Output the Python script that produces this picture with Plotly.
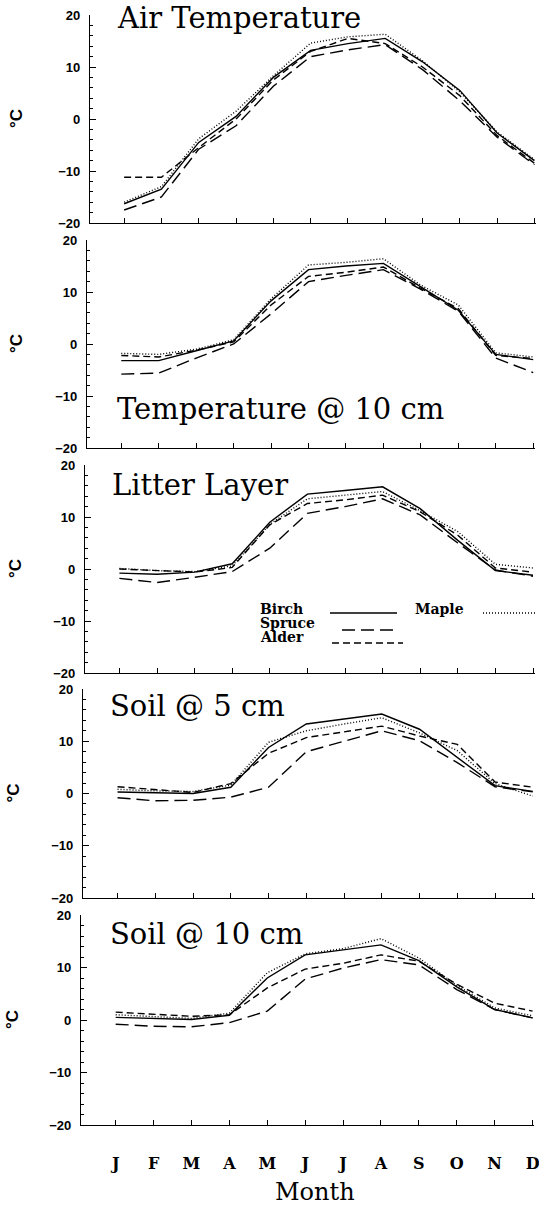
import plotly.graph_objects as go
from plotly.subplots import make_subplots

# month axis
months = ["J", "F", "M", "A", "M", "J", "J", "A", "S", "O", "N", "D"]
month_num = list(range(1, 13))

panel_titles = ["Air Temperature", "Temperature @ 10 cm", "Litter Layer",
                "Soil @ 5 cm", "Soil @ 10 cm"]
species = ["Birch", "Maple", "Spruce", "Alder"]

# mean monthly temperature (deg C)
air_birch = [-16.3, -13.5, -4.5, 0.5, 8.0, 13.2, 14.5, 15.5, 11.0, 5.5, -2.7, -8.0]
air_maple = [-16.0, -13.0, -3.8, 1.5, 8.3, 14.6, 15.8, 16.3, 11.2, 5.2, -2.5, -7.8]
air_spruce = [-17.5, -15.0, -5.8, -1.3, 6.3, 12.0, 13.3, 14.3, 9.5, 3.5, -3.5, -8.8]
air_alder = [-11.2, -11.2, -5.5, 0.0, 7.5, 13.0, 15.5, 14.5, 10.0, 4.5, -3.2, -8.5]

t10_birch = [-3.2, -3.2, -1.3, 0.6, 8.3, 14.3, 15.0, 15.5, 11.0, 6.5, -2.0, -3.0]
t10_maple = [-1.8, -2.0, -1.0, 0.8, 8.7, 15.2, 15.7, 16.4, 11.3, 7.5, -1.7, -2.5]
t10_spruce = [-5.8, -5.6, -2.7, 0.0, 5.8, 12.0, 13.2, 14.3, 10.5, 6.3, -2.7, -5.5]
t10_alder = [-2.2, -2.5, -1.2, 0.4, 7.5, 13.0, 13.8, 14.8, 10.7, 6.8, -2.2, -2.8]

lit_birch = [-0.8, -1.0, -0.6, 1.0, 9.0, 14.4, 15.1, 15.8, 11.6, 5.5, -0.3, -1.2]
lit_maple = [0.1, -0.3, -0.5, 0.6, 8.6, 13.5, 14.2, 14.9, 11.2, 7.2, 0.9, 0.2]
lit_spruce = [-1.8, -2.6, -1.6, -0.5, 4.0, 10.7, 12.0, 13.5, 10.4, 5.0, -0.2, -1.4]
lit_alder = [0.0, -0.3, -0.6, 0.3, 8.5, 12.6, 13.3, 14.2, 11.0, 6.5, 0.2, -0.6]

s5_birch = [0.3, 0.1, 0.0, 1.2, 8.8, 13.3, 14.3, 15.2, 12.3, 6.9, 1.5, 0.4]
s5_maple = [0.8, 0.5, 0.4, 1.6, 9.8, 12.0, 13.3, 14.5, 11.6, 8.2, 1.9, -0.5]
s5_spruce = [-0.8, -1.4, -1.3, -0.7, 1.2, 8.0, 10.0, 12.0, 10.1, 5.9, 1.3, 0.3]
s5_alder = [1.3, 0.8, 0.2, 1.9, 7.7, 10.7, 11.8, 12.9, 11.0, 9.4, 2.2, 1.2]

s10_birch = [0.5, 0.3, 0.1, 0.9, 8.0, 12.4, 13.4, 14.3, 11.3, 6.3, 2.0, 0.4]
s10_maple = [1.0, 0.6, 0.3, 1.3, 9.0, 12.6, 13.6, 15.5, 11.8, 6.6, 2.3, 0.8]
s10_spruce = [-0.8, -1.2, -1.3, -0.5, 1.7, 7.8, 9.9, 11.5, 10.5, 5.8, 2.0, 0.4]
s10_alder = [1.5, 1.1, 0.7, 1.0, 6.1, 9.7, 10.8, 12.4, 11.2, 6.8, 3.2, 1.7]

panel_data = [
    [air_birch, air_maple, air_spruce, air_alder],
    [t10_birch, t10_maple, t10_spruce, t10_alder],
    [lit_birch, lit_maple, lit_spruce, lit_alder],
    [s5_birch, s5_maple, s5_spruce, s5_alder],
    [s10_birch, s10_maple, s10_spruce, s10_alder],
]

dashes = {"Birch": "solid", "Maple": "1px,2px", "Spruce": "13px,6px", "Alder": "7px,4px"}

W, H = 539, 1208


def fx(px):
    return px / W


def fy(px):
    return 1 - px / H


# scanned figure: panels drift slightly left going down
panel_top = [15, 240, 465, 689, 915]
panel_bot = [223, 448, 673, 898, 1125]
axis_left = [90, 87, 85, 83, 81]
month_w = [37.3, 37.45, 37.6, 37.75, 37.9]
x_lo, x_hi = 0.085, 12.05

fig = make_subplots(rows=5, cols=1)

for i in range(5):
    for name, vals in zip(species, panel_data[i]):
        fig.add_trace(go.Scatter(x=month_num, y=vals, mode="lines", name=name,
                                 line=dict(color="black", width=1.4, dash=dashes[name]),
                                 showlegend=False), row=i + 1, col=1)

serif = "DejaVu Serif"

for i in range(5):
    n = "" if i == 0 else str(i + 1)
    right = min(W, axis_left[i] + (x_hi - x_lo) * month_w[i])
    fig.layout["xaxis" + n].update(
        domain=[fx(axis_left[i]), fx(right)], range=[x_lo, x_hi],
        tickvals=month_num, ticktext=months, ticks="inside", ticklen=5,
        tickcolor="black", showline=True, linecolor="black", linewidth=1.4,
        showgrid=False, zeroline=False, showticklabels=(i == 4),
        tickfont=dict(family=serif, size=16, weight="bold", color="black"),
        ticklabelstandoff=24, ticklabeloverflow="allow")
    fig.layout["yaxis" + n].update(
        domain=[fy(panel_bot[i]), fy(panel_top[i])], range=[-20, 20],
        tickvals=[-20, -10, 0, 10, 20], ticks="inside", ticklen=6,
        tickcolor="black", minor=dict(dtick=2, ticks="inside", ticklen=3, tickcolor="black"),
        showline=True, linecolor="black", linewidth=1.4, showgrid=False,
        zeroline=False, tickfont=dict(family="Liberation Sans", size=13, weight="bold",
                                      color="black"),
        ticklabelstandoff=6, ticklabeloverflow="allow")

# panel titles
title_x = [115, 115, 110, 108, 108]
title_y = [18, 409, 485, 706, 934]
for i in range(5):
    fig.add_annotation(x=fx(title_x[i]), y=fy(title_y[i]), xref="paper", yref="paper",
                       text=panel_titles[i], showarrow=False, xanchor="left",
                       yanchor="middle", font=dict(family=serif, size=29, color="black"))

# degree C labels
deg_x = [17, 16, 15, 13, 12]
for i in range(5):
    n = "" if i == 0 else str(i + 1)
    fig.add_annotation(x=fx(deg_x[i]), y=0, xref="paper", yref="y" + n,
                       text="°C", textangle=-90, showarrow=False,
                       xanchor="center", yanchor="middle",
                       font=dict(family="Liberation Sans", size=17, weight="bold",
                                 color="black"))

fig.add_annotation(x=fx(315), y=fy(1192), xref="paper", yref="paper", text="Month",
                   showarrow=False, xanchor="center", yanchor="middle",
                   font=dict(family=serif, size=24, color="black"))

# legend drawn inside the litter layer panel
legend_rows = [("Birch", 258, 609, 330, 397, 613),
               ("Spruce", 258, 623, 342, 397, 630),
               ("Alder", 258, 637, 332, 403, 643),
               ("Maple", 413, 609, 483, 537, 613)]
for name, tx, ty, lx0, lx1, ly in legend_rows:
    fig.add_annotation(x=fx(tx), y=fy(ty), xref="paper", yref="paper", text=name,
                       showarrow=False, xanchor="left", yanchor="middle",
                       font=dict(family=serif, size=14, weight="bold", color="black"))
    fig.add_shape(type="line", xref="paper", yref="paper", x0=fx(lx0), x1=fx(lx1),
                  y0=fy(ly), y1=fy(ly),
                  line=dict(color="black", width=1.4, dash=dashes[name]))

fig.update_layout(width=W, height=H,
                  margin=dict(l=0, r=0, t=0, b=0, autoexpand=False),
                  plot_bgcolor="white", paper_bgcolor="white", showlegend=False)

fig.write_html("out.html", config={"displayModeBar": False},
               post_script="document.body.style.margin='0';")
